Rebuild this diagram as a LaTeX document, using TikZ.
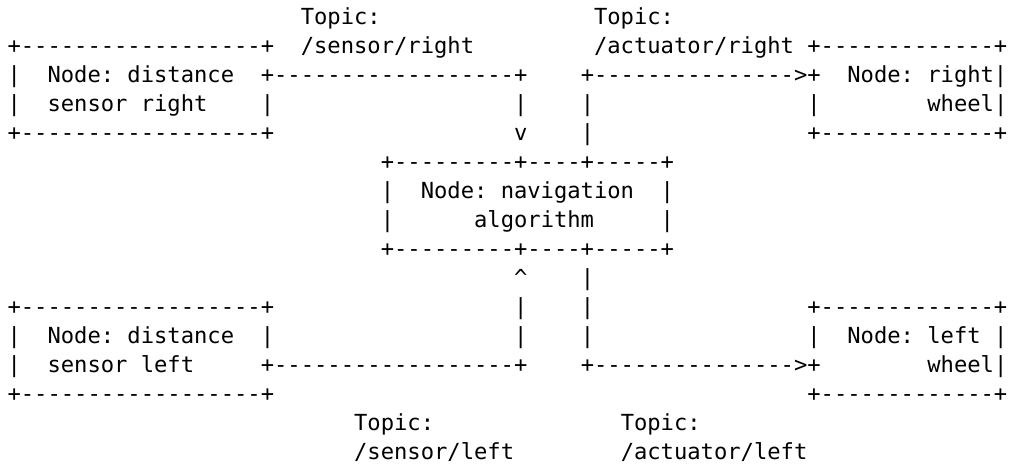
\documentclass[tikz,border=0pt]{standalone}
\usepackage{fontspec}
\setmonofont{DejaVu Sans Mono}
\newcommand\asciifont{\ttfamily\fontsize{22.14pt}{29pt}\selectfont\frenchspacing}
\tikzset{
  txt/.style ={font=\asciifont,inner sep=0pt,anchor=mid west},
}
\begin{document}
\begin{tikzpicture}[x=13.33pt,y=-29pt]
  \useasboundingbox (-1.05,0.24) rectangle (74.64,16.34);
  % topics above
  \node[txt] (tpSR) at (21.5,1) {Topic:};
  \node[txt] (tpAR) at (43.5,1) {Topic:};
  % row 2
  \node[txt] (dsrTop) at (-0.5,2) {+------------------+};
  \node[txt] (nmSR)   at (21.5,2) {/sensor/right};
  \node[txt] (nmAR)   at (43.5,2) {/actuator/right};
  \node[txt] (rwTop)  at (59.5,2) {+-------------+};
  % row 3
  \node[txt] (dsrL1)  at (-0.5,3) {|};
  \node[txt] (dsrT1)  at (2.5,3)  {Node: distance};
  \node[txt] (linSR)  at (18.5,3) {+------------------+};
  \node[txt] (linAR)  at (42.5,3) {+--------------->+};
  \node[txt] (rwT1)   at (62.5,3) {Node: right|};
  % row 4
  \node[txt] (dsrL2)  at (-0.5,4) {|};
  \node[txt] (dsrT2)  at (2.5,4)  {sensor right};
  \node[txt] (dsrR2)  at (18.5,4) {|};
  \node[txt] (vSR4)   at (37.5,4) {|};
  \node[txt] (vAR4)   at (42.5,4) {|};
  \node[txt] (rwL2)   at (59.5,4) {|};
  \node[txt] (rwT2)   at (68.5,4) {wheel|};
  % row 5
  \node[txt] (dsrBot) at (-0.5,5) {+------------------+};
  \node[txt] (vSR5)   at (37.5,5) {v};
  \node[txt] (vAR5)   at (42.5,5) {|};
  \node[txt] (rwBot)  at (59.5,5) {+-------------+};
  % navigation box
  \node[txt] (navTop) at (27.5,6) {+---------+----+-----+};
  \node[txt] (navL1)  at (27.5,7) {|};
  \node[txt] (navT1)  at (30.5,7) {Node: navigation};
  \node[txt] (navR1)  at (48.5,7) {|};
  \node[txt] (navL2)  at (27.5,8) {|};
  \node[txt] (navT2)  at (34.5,8) {algorithm};
  \node[txt] (navR2)  at (48.5,8) {|};
  \node[txt] (navBot) at (27.5,9) {+---------+----+-----+};
  % row 10
  \node[txt] (vSL10)  at (37.5,10) {\textasciicircum};
  \node[txt] (vAL10)  at (42.5,10) {|};
  % row 11
  \node[txt] (dslTop) at (-0.5,11) {+------------------+};
  \node[txt] (vSL11)  at (37.5,11) {|};
  \node[txt] (vAL11)  at (42.5,11) {|};
  \node[txt] (lwTop)  at (59.5,11) {+-------------+};
  % row 12
  \node[txt] (dslL1)  at (-0.5,12) {|};
  \node[txt] (dslT1)  at (2.5,12)  {Node: distance};
  \node[txt] (dslR1)  at (18.5,12) {|};
  \node[txt] (vSL12)  at (37.5,12) {|};
  \node[txt] (vAL12)  at (42.5,12) {|};
  \node[txt] (lwL1)   at (59.5,12) {|};
  \node[txt] (lwT1)   at (62.5,12) {Node: left};
  \node[txt] (lwR1)   at (73.5,12) {|};
  % row 13
  \node[txt] (dslL2)  at (-0.5,13) {|};
  \node[txt] (dslT2)  at (2.5,13)  {sensor left};
  \node[txt] (linSL)  at (18.5,13) {+------------------+};
  \node[txt] (linAL)  at (42.5,13) {+--------------->+};
  \node[txt] (lwT2)   at (68.5,13) {wheel|};
  % row 14
  \node[txt] (dslBot) at (-0.5,14) {+------------------+};
  \node[txt] (lwBot)  at (59.5,14) {+-------------+};
  % topics below
  \node[txt] (tpSL)   at (25.5,15) {Topic:};
  \node[txt] (tpAL)   at (45.5,15) {Topic:};
  \node[txt] (nmSL)   at (25.5,16) {/sensor/left};
  \node[txt] (nmAL)   at (45.5,16) {/actuator/left};
\end{tikzpicture}
\end{document}
